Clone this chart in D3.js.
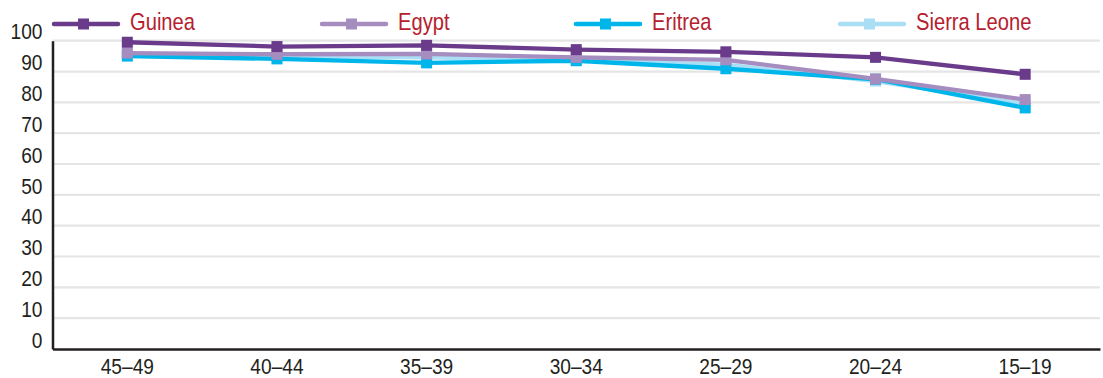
<!DOCTYPE html>
<html><head><meta charset="utf-8">
<script src="https://cdn.jsdelivr.net/npm/d3@7"></script>
<style>
body{margin:0;background:#fff;}
text{font-family:"Liberation Sans","Arial",sans-serif;}
</style></head>
<body><svg id="chart" width="1103" height="378"></svg>
<script>
const categories = ["45–49","40–44","35–39","30–34","25–29","20–24","15–19"];
const seriesNames = ["Guinea","Egypt","Eritrea","Sierra Leone"];
const guinea = [99.5, 98.1, 98.5, 97.1, 96.4, 94.6, 89.1];
const egypt = [96.0, 95.6, 95.7, 94.6, 93.8, 87.6, 80.9];
const eritrea = [95.0, 94.1, 92.8, 93.5, 90.9, 87.5, 78.2];
const sierraLeone = [95.6, 95.0, 94.6, 93.6, 92.2, 86.9, 79.5];
const yTicks = [0,10,20,30,40,50,60,70,80,90,100];
const colors = ["#6a3a8b","#a68dbf","#00b5ea","#a9def5"];

const values = [guinea, egypt, eritrea, sierraLeone];
const svg = d3.select("#chart");
const mLeft = 52.5, mRight = 1100, mTop = 40.7, mBottom = 349;
const sx = 0.85;
const x = d3.scaleBand().domain(categories).range([mLeft, mRight]).paddingInner(0).paddingOuter(0);
const y = d3.scaleLinear().domain([0,100]).range([mBottom, mTop]);

// gridlines
svg.append("g").selectAll("line").data(yTicks.filter(d=>d>0)).join("line")
  .attr("x1", mLeft).attr("x2", mRight)
  .attr("y1", d=>y(d)).attr("y2", d=>y(d))
  .attr("stroke", "#e5e5e5").attr("stroke-width", 2.2);

// y axis
const yAxis = svg.append("g").attr("transform", `translate(${mLeft},0)`)
  .call(d3.axisLeft(y).tickValues(yTicks).tickSize(0).tickPadding(10));
yAxis.select(".domain").attr("stroke","#231f20").attr("stroke-width",2.5);
yAxis.selectAll("text").attr("font-size", 22.5).attr("fill","#231f20")
  .attr("font-family",'"Liberation Sans",Arial,sans-serif')
  .attr("x", -10/sx).attr("dy", "-0.08em")
  .attr("transform", `scale(${sx},1)`);

// x axis
const xAxis = svg.append("g").attr("transform", `translate(0,${mBottom})`)
  .call(d3.axisBottom(x).tickSize(0).tickPadding(9));
xAxis.select(".domain").attr("stroke","#231f20").attr("stroke-width",2.5);
xAxis.selectAll("text").attr("font-size", 22.5).attr("fill","#231f20")
  .attr("font-family",'"Liberation Sans",Arial,sans-serif')
  .attr("transform", `scale(${sx},1)`)
  .attr("x", function(){ return 0; });

const cx = c => x(c) + x.bandwidth()/2;
const line = d3.line().x((d,i)=>cx(categories[i])).y(d=>y(d));

// draw in reverse order so Guinea is on top
const order = [3,2,1,0];
order.forEach(si => {
  const g = svg.append("g");
  g.append("path").datum(values[si]).attr("d", line)
    .attr("fill","none").attr("stroke", colors[si]).attr("stroke-width", 4.3);
  g.selectAll("rect").data(values[si]).join("rect")
    .attr("x",(d,i)=>cx(categories[i])-5.5).attr("y",d=>y(d)-5.5)
    .attr("width",11).attr("height",11).attr("fill",colors[si]);
});

// legend
const legendX = [52, 320, 574, 838];
seriesNames.forEach((name, si) => {
  const g = svg.append("g").attr("transform", `translate(${legendX[si]},24)`);
  g.append("line").attr("x1",2).attr("x2",66).attr("y1",0).attr("y2",0)
    .attr("stroke",colors[si]).attr("stroke-width",4.5).attr("stroke-linecap","round");
  g.append("rect").attr("x",26).attr("y",-5.5).attr("width",11).attr("height",11).attr("fill",colors[si]);
  g.append("text").attr("x",78/0.84).attr("y",5.5).attr("font-size",24)
    .attr("transform","scale(0.84,1)")
    .attr("fill","#b5202e").text(name);
});
</script></body></html>
